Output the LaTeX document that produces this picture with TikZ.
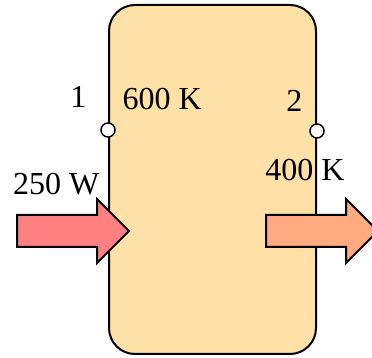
\documentclass[tikz,border=0pt]{standalone}
\usepackage{fontspec}
\setmainfont{Liberation Serif}
\usetikzlibrary{positioning, shapes.arrows}
\definecolor{cTank}{HTML}{FFE0A6}
\definecolor{cHeatIn}{HTML}{FF8080}
\definecolor{cHeatOut}{HTML}{FFAA80}
\tikzset{
  tank/.style={rectangle, rounded corners=26pt, draw=black, line width=2pt, fill=cTank,
    minimum width=207pt, minimum height=349pt, inner sep=0pt},
  port/.style={circle, draw=black, line width=1.5pt, fill=white, minimum size=14pt, inner sep=0pt},
  heat/.style={single arrow, draw=black, line width=2pt, fill=#1, minimum height=112pt,
    minimum width=63pt, single arrow head extend=16pt, inner xsep=0pt, inner ysep=15pt},
  lbl/.style={font=\fontsize{32}{38}\selectfont, inner sep=2pt},
}

\begin{document}
\begin{tikzpicture}[x=1pt, y=1pt]
\clip (0,0) rectangle (372,358);
% control volume with inlet and outlet
\node[tank] (tank) at (212.5,178.5) {};
\node[port] (p1) at ([yshift=49.5pt]tank.west) {};
\node[port] (p2) at ([yshift=48.5pt]tank.east) {};
% heat crossing the boundary
\node[heat=cHeatIn] (qin) at (65,127) {};
\node[heat=cHeatOut] (qout) at (314,127) {};
% state labels
\node[lbl, above left=15pt and 14pt of p1] (n1) {1};
\node[lbl, above right=13pt and 7pt of p1] (t1) {600 K};
\node[lbl, below left=36pt and 1pt of p1] (qinlbl) {250 W};
\node[lbl, above left=12pt and 7pt of p2] (n2) {2};
\node[lbl, below=18pt of p2, xshift=-12pt] (t2) {400 K};
\end{tikzpicture}
\end{document}
